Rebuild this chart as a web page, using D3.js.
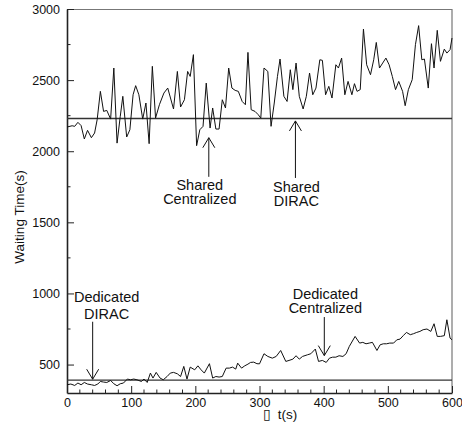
<!DOCTYPE html>
<html>
<head>
<meta charset="utf-8">
<script src="https://cdn.jsdelivr.net/npm/d3@7"></script>
<style>
    body { margin: 0; background: #fff; }
    text { font-family: "Liberation Sans", Arial, sans-serif; fill: #111; }
</style>
</head>
<body>
<div class="chart"></div>
<script>

// Shared Centralized waiting time (t in s, waiting time in s)
var sharedT = [0, 8, 12, 17, 22, 27, 32, 38, 43, 47, 52, 57, 62, 68, 73, 78, 83, 87, 93, 98,
    103, 107, 112, 118, 123, 128, 133, 138, 144, 151, 157, 166, 172, 177, 183, 188, 192, 197,
    202, 207, 212, 217, 223, 227, 232, 237, 242, 247, 252, 257, 262, 267, 273, 278, 282, 287,
    293, 298, 302, 307, 313, 318, 323, 328, 332, 338, 343, 348, 352, 357, 362, 368, 373, 378,
    383, 388, 394, 398, 403, 408, 413, 419, 423, 428, 433, 438, 444, 448, 452, 457, 462, 467,
    473, 478, 482, 487, 492, 497, 502, 507, 512, 517, 523, 527, 532, 538, 543, 548, 553, 557,
    563, 568, 572, 577, 582, 588, 592, 597, 600];
var sharedWait = [2170, 2179, 2175, 2203, 2180, 2086, 2147, 2095, 2128, 2222, 2421, 2280, 2287,
    2226, 2585, 2057, 2245, 2386, 2100, 2151, 2397, 2461, 2397, 2226, 2339, 2053, 2597, 2233,
    2327, 2409, 2444, 2297, 2561, 2311, 2362, 2561, 2526, 2679, 2039, 2151, 2175, 2479, 2163,
    2304, 2156, 2156, 2362, 2304, 2585, 2444, 2428, 2421, 2350, 2327, 2695, 2292, 2280, 2257,
    2233, 2585, 2561, 2175, 2339, 2526, 2648, 2386, 2350, 2573, 2433, 2620, 2386, 2297, 2386,
    2550, 2397, 2444, 2643, 2639, 2397, 2456, 2374, 2608, 2585, 2655, 2397, 2491, 2397, 2475,
    2421, 2433, 2859, 2608, 2538, 2643, 2765, 2585, 2620, 2655, 2608, 2526, 2433, 2491, 2421,
    2320, 2433, 2503, 2749, 2883, 2643, 2648, 2444, 2756, 2585, 2850, 2632, 2718, 2690, 2714,
    2796];

// Dedicated Centralized waiting time
var dedicatedT = [0, 6, 12, 17, 22, 27, 32, 38, 43, 48, 52, 57, 62, 68, 73, 78, 83, 88, 94, 99,
    104, 109, 116, 120, 125, 130, 134, 139, 145, 150, 156, 161, 166, 172, 177, 182, 187, 192,
    199, 204, 209, 214, 222, 227, 232, 237, 242, 248, 253, 258, 263, 266, 272, 277, 282, 286,
    291, 296, 300, 307, 313, 320, 326, 333, 341, 346, 352, 357, 362, 367, 375, 380, 387, 392,
    398, 404, 409, 414, 419, 424, 430, 435, 440, 449, 456, 461, 466, 471, 476, 483, 488, 493,
    498, 503, 509, 514, 519, 524, 529, 535, 540, 545, 550, 555, 561, 567, 572, 577, 582, 588,
    592, 597, 600];
var dedicatedWait = [358, 363, 353, 370, 358, 374, 363, 358, 353, 363, 381, 377, 374, 388, 365,
    351, 365, 370, 398, 393, 398, 393, 381, 398, 374, 440, 405, 445, 405, 393, 416, 440, 445,
    435, 416, 487, 398, 482, 463, 491, 463, 440, 506, 405, 416, 412, 416, 475, 475, 482, 468,
    510, 475, 491, 503, 515, 517, 506, 505, 576, 557, 545, 557, 599, 522, 529, 538, 562, 538,
    557, 569, 576, 609, 522, 529, 515, 545, 552, 552, 562, 557, 576, 628, 698, 651, 656, 646,
    651, 656, 599, 639, 646, 646, 651, 651, 674, 679, 703, 726, 710, 717, 726, 733, 745, 750,
    733, 787, 698, 698, 703, 815, 686, 674];

// DIRAC results are constant
var sharedDirac = 2230;
var dedicatedDirac = 390;

var xTicks = [0, 100, 200, 300, 400, 500, 600];
var yTicks = [500, 1000, 1500, 2000, 2500, 3000];

// annotation labels: text lines, arrow at t, arrow tip value, arrow tail value
var notes = [
    { lines: ["Shared", "Centralized"], t: 221, tip: 2095, from: 1820, dir: "up" },
    { lines: ["Shared", "DIRAC"], t: 356, tip: 2213, from: 1812, dir: "up" },
    { lines: ["Dedicated", "DIRAC"], t: 40, tip: 397, from: 801, dir: "down" },
    { lines: ["Dedicated", "Centralized"], t: 401, tip: 563, from: 834, dir: "down" }
];

var svgWidth = 462;
var svgHeight = 425;

var margin = { top: 9, right: 10, bottom: 32, left: 67 };
var width = svgWidth - margin.left - margin.right;
var height = svgHeight - margin.top - margin.bottom;

var svg = d3.select(".chart")
    .append("svg")
    .attr("width", svgWidth)
    .attr("height", svgHeight);

var chartGroup = svg.append("g")
    .attr("transform", `translate(${margin.left}, ${margin.top})`);

var xScale = d3.scaleLinear().domain([0, 600]).range([0, width]);
var yScale = d3.scaleLinear().domain([300, 3000]).range([height, 0]);

// frame: top and right in grey
chartGroup.append("path")
    .attr("d", `M0,0.5H${width}V${height}`)
    .attr("fill", "none")
    .attr("stroke", "#777")
    .attr("stroke-width", 1.2);

// minor ticks
chartGroup.selectAll(".xminor")
    .data(d3.range(20, 600, 20).filter(d => d % 100 != 0))
    .enter()
    .append("line")
    .attr("x1", d => xScale(d)).attr("x2", d => xScale(d))
    .attr("y1", height).attr("y2", height - 3.5)
    .attr("stroke", "#222");

chartGroup.selectAll(".yminor")
    .data(d3.range(750, 3000, 500))
    .enter()
    .append("line")
    .attr("y1", d => yScale(d)).attr("y2", d => yScale(d))
    .attr("x1", 0).attr("x2", 3.5)
    .attr("stroke", "#222");

var bottomAxis = d3.axisBottom(xScale).tickValues(xTicks).tickFormat(d3.format("d"))
    .tickSizeInner(-7).tickSizeOuter(0).tickPadding(5);
var leftAxis = d3.axisLeft(yScale).tickValues(yTicks).tickFormat(d3.format("d"))
    .tickSizeInner(-7).tickSizeOuter(0).tickPadding(7);

var xAxisG = chartGroup.append("g")
    .attr("transform", `translate(0, ${height})`)
    .call(bottomAxis);

var yAxisG = chartGroup.append("g")
    .call(leftAxis);

[xAxisG, yAxisG].forEach(function (g) {
    g.select(".domain").attr("stroke", "#222").attr("stroke-width", 1.6);
    g.selectAll(".tick line").attr("stroke", "#222");
    g.selectAll(".tick text")
        .style("font-family", "'Liberation Sans', Arial, sans-serif")
        .style("font-size", "12.5px")
        .attr("fill", "#111");
});

// DIRAC horizontal lines
chartGroup.selectAll(".dirac")
    .data([sharedDirac, dedicatedDirac])
    .enter()
    .append("line")
    .attr("x1", 0).attr("x2", width)
    .attr("y1", d => yScale(d)).attr("y2", d => yScale(d))
    .attr("stroke", "#333")
    .attr("stroke-width", 1.3);

var line = d3.line()
    .x(d => xScale(d[0]))
    .y(d => yScale(d[1]));

chartGroup.append("path")
    .datum(d3.zip(sharedT, sharedWait))
    .attr("d", line)
    .attr("fill", "none")
    .attr("stroke", "#111")
    .attr("stroke-width", 1);

chartGroup.append("path")
    .datum(d3.zip(dedicatedT, dedicatedWait))
    .attr("d", line)
    .attr("fill", "none")
    .attr("stroke", "#111")
    .attr("stroke-width", 1);

// text offsets relative to the arrow tail (dx, first baseline dy, line gap)
var noteOffsets = [[-9, 13, 14], [1, 14, 14], [14, -19.5, 17], [1, -18, 14]];

notes.forEach(function (n, k) {
    var x = xScale(n.t);
    var yTip = yScale(n.tip);
    var yFrom = yScale(n.from);
    var s = n.dir == "up" ? 1 : -1;
    var off = noteOffsets[k];

    chartGroup.append("path")
        .attr("d", `M${x},${yFrom}V${yTip}M${x - 6},${yTip + 10 * s}L${x},${yTip}L${x + 6},${yTip + 10 * s}`)
        .attr("fill", "none")
        .attr("stroke", "#111")
        .attr("stroke-width", 1);

    var label = chartGroup.append("text")
        .attr("text-anchor", "middle")
        .style("font-size", "14.5px");

    n.lines.forEach(function (l, i) {
        label.append("tspan")
            .attr("x", x + off[0])
            .attr("y", yFrom + off[1] + i * off[2])
            .text(l);
    });
});

// Create axes labels
chartGroup.append("text")
    .attr("transform", "rotate(-90)")
    .attr("y", 24 - margin.left)
    .attr("x", 0 - 208)
    .attr("text-anchor", "middle")
    .style("font-size", "13.5px")
    .text("Waiting Time(s)");

chartGroup.append("text")
    .attr("x", 263 - margin.left)
    .attr("y", 419 - margin.top)
    .style("font-size", "13.5px")
    .text("\u25AF\u2002t(s)");

</script>
</body>
</html>
